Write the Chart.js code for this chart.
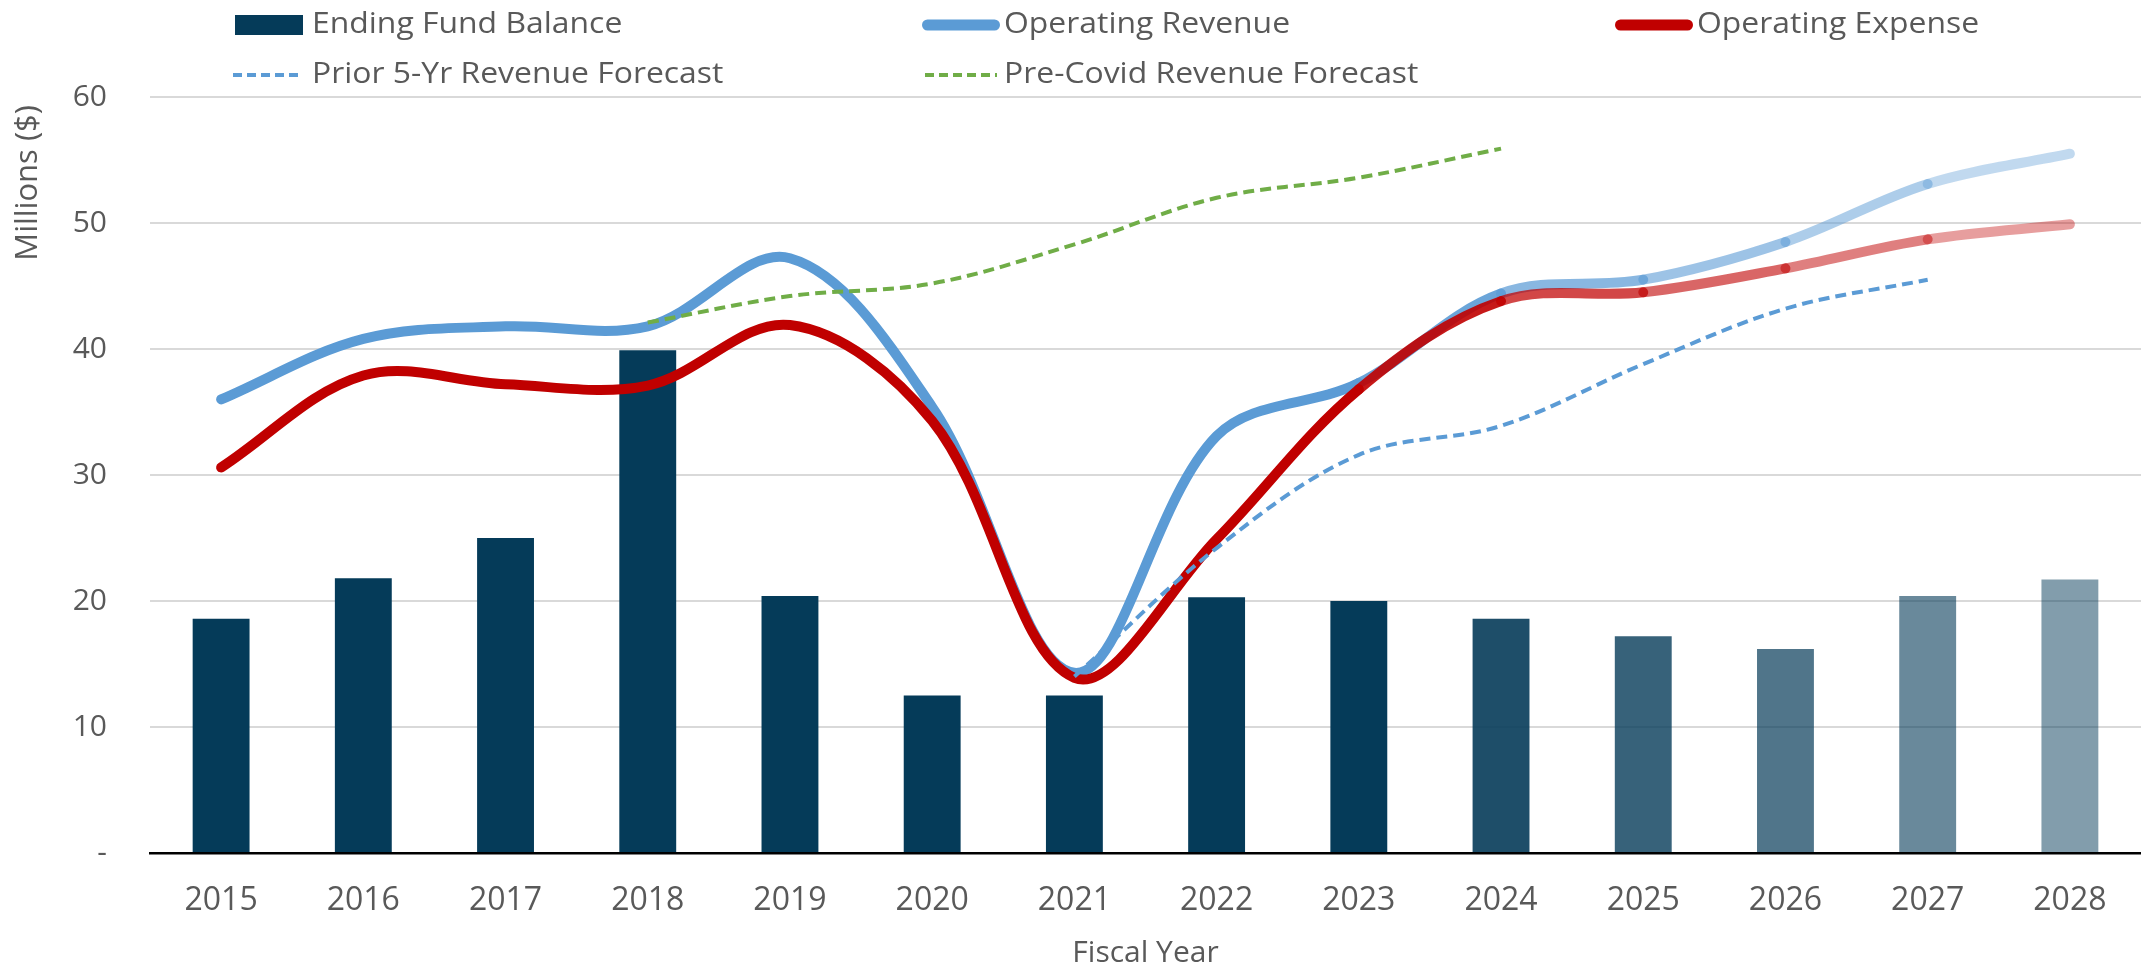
<!DOCTYPE html>
<html>
<head>
<meta charset="utf-8">
<script src="https://cdn.jsdelivr.net/npm/chart.js@4.4.1/dist/chart.umd.min.js"></script>
<style>
  html, body { margin: 0; padding: 0; background: #fff; }
  #fundChart { display: block; }
</style>
</head>
<body>
<canvas id="fundChart" width="2141" height="971"></canvas>
<script>
// Datos (millones de $)
const fiscalYears = ['2015', '2016', '2017', '2018', '2019', '2020', '2021', '2022', '2023', '2024', '2025', '2026', '2027', '2028'];
const endingFundBalance = [18.6, 21.8, 25.0, 39.9, 20.4, 12.5, 12.5, 20.3, 20.0, 18.6, 17.2, 16.2, 20.4, 21.7];
const operatingRevenue = [36.0, 40.8, 41.8, 41.8, 47.2, 35.4, 14.3, 33.1, 37.3, 44.4, 45.5, 48.5, 53.1, 55.5];
const operatingExpense = [30.6, 37.9, 37.2, 37.1, 41.9, 34.3, 13.9, 24.9, 36.8, 43.8, 44.5, 46.4, 48.7, 49.9];
const priorRevenueForecast = [null, null, null, null, null, null, 14.0, 24.2, 31.6, 33.9, 38.8, 43.2, 45.5, null];
const preCovidRevenueForecast = [null, null, null, 42.1, 44.2, 45.2, 48.3, 52.0, 53.6, 55.9, null, null, null, null];
const yTickValues = [0, 10, 20, 30, 40, 50, 60];

// Estilos: los años proyectados se ven más claros
const barAlpha = [1, 1, 1, 1, 1, 1, 1, 1, 1, 0.9, 0.8, 0.7, 0.6, 0.5];
const segmentAlpha = [1, 1, 1, 1, 1, 1, 1, 1, 0.9, 0.72, 0.6, 0.5, 0.38];
const textColor = '#595959';
const fontName = '"Open Sans", "DejaVu Sans", sans-serif';

function rgba(hex, a) {
    const n = parseInt(hex.slice(1), 16);
    return `rgba(${(n >> 16) & 255}, ${(n >> 8) & 255}, ${n & 255}, ${a})`;
}

// Leyenda dibujada a mano, con la misma rejilla que el original
const legendSlots = [
    { ds: 0, kind: 'box', x: 235, w: 68, y: 25, textX: 312 },
    { ds: 1, kind: 'line', x: 922, w: 78, y: 25, textX: 1004 },
    { ds: 2, kind: 'line', x: 1615, w: 78, y: 25, textX: 1697 },
    { ds: 3, kind: 'dash', x: 233, w: 70, y: 75, textX: 312 },
    { ds: 4, kind: 'dash', x: 925, w: 72, y: 75, textX: 1004 }
];

const excelLegend = {
    id: 'excelLegend',
    afterDraw(chart) {
        const ctx = chart.ctx;
        ctx.save();
        legendSlots.forEach(s => {
            const ds = chart.data.datasets[s.ds];
            if (s.kind === 'box') {
                ctx.fillStyle = ds.legendColor;
                ctx.fillRect(s.x, s.y - 10, s.w, 20);
            } else {
                ctx.beginPath();
                ctx.strokeStyle = ds.legendColor;
                if (s.kind === 'line') {
                    ctx.lineWidth = 11;
                    ctx.lineCap = 'round';
                    ctx.setLineDash([]);
                    ctx.moveTo(s.x + 5.5, s.y);
                    ctx.lineTo(s.x + s.w - 5.5, s.y);
                } else {
                    ctx.lineWidth = 4;
                    ctx.lineCap = 'butt';
                    ctx.setLineDash([9, 5]);
                    ctx.moveTo(s.x, s.y);
                    ctx.lineTo(s.x + s.w, s.y);
                }
                ctx.stroke();
                ctx.setLineDash([]);
            }
            ctx.save();
            ctx.translate(s.textX, s.y);
            ctx.scale(1.1, 1);
            ctx.fillStyle = textColor;
            ctx.font = '29px ' + fontName;
            ctx.textBaseline = 'middle';
            ctx.textAlign = 'left';
            ctx.fillText(ds.label, 0, 0);
            ctx.restore();
        });
        ctx.restore();
    }
};

function createFundChart() {
    const ctx = document.getElementById('fundChart').getContext('2d');
    const fundChart = new Chart(ctx, {
        type: 'bar',
        data: {
            labels: fiscalYears,
            datasets: [{
                type: 'bar',
                label: 'Ending Fund Balance',
                data: endingFundBalance,
                backgroundColor: barAlpha.map(a => rgba('#053B59', a)),
                legendColor: '#053B59',
                barPercentage: 0.4,
                categoryPercentage: 1.0,
                order: 5
            }, {
                type: 'line',
                label: 'Operating Revenue',
                data: operatingRevenue,
                borderColor: '#5B9BD5',
                legendColor: '#5B9BD5',
                borderWidth: 10,
                borderCapStyle: 'round',
                borderJoinStyle: 'round',
                tension: 0.35,
                pointRadius: 0,
                segment: { borderColor: c => rgba('#5B9BD5', segmentAlpha[c.p0DataIndex]) },
                order: 4
            }, {
                type: 'line',
                label: 'Operating Expense',
                data: operatingExpense,
                borderColor: '#C00000',
                legendColor: '#C00000',
                borderWidth: 10,
                borderCapStyle: 'round',
                borderJoinStyle: 'round',
                tension: 0.35,
                pointRadius: 0,
                segment: { borderColor: c => rgba('#C00000', segmentAlpha[c.p0DataIndex]) },
                order: 3
            }, {
                type: 'line',
                label: 'Prior 5-Yr Revenue Forecast',
                data: priorRevenueForecast,
                borderColor: '#5B9BD5',
                legendColor: '#5B9BD5',
                borderWidth: 4,
                borderDash: [11, 6],
                tension: 0.35,
                pointRadius: 0,
                order: 2
            }, {
                type: 'line',
                label: 'Pre-Covid Revenue Forecast',
                data: preCovidRevenueForecast,
                borderColor: '#70AD47',
                legendColor: '#70AD47',
                borderWidth: 4,
                borderDash: [11, 6],
                tension: 0.35,
                pointRadius: 0,
                order: 1
            }]
        },
        options: {
            responsive: false,
            animation: false,
            events: [],
            layout: { padding: { top: 97, right: 0, bottom: 0, left: 0 } },
            plugins: {
                legend: { display: false },
                tooltip: { enabled: false }
            },
            scales: {
                x: {
                    grid: { display: false, drawTicks: false },
                    border: { display: true, color: '#000000', width: 2.5 },
                    ticks: {
                        color: textColor,
                        font: { family: fontName, size: 32 },
                        padding: 29,
                        maxRotation: 0,
                        autoSkip: false
                    },
                    title: {
                        display: true,
                        text: 'Fiscal Year',
                        color: textColor,
                        font: { family: fontName, size: 30 },
                        padding: { top: 0, bottom: 0 }
                    },
                    afterFit: scale => { scale.height = 118; }
                },
                y: {
                    min: 0,
                    max: 60,
                    afterBuildTicks: scale => { scale.ticks = yTickValues.map(v => ({ value: v })); },
                    grid: {
                        drawTicks: false,
                        lineWidth: 2,
                        color: c => (c.tick && c.tick.value === 0) ? 'rgba(0,0,0,0)' : '#D9D9D9'
                    },
                    border: { display: false },
                    ticks: {
                        color: textColor,
                        font: { family: fontName, size: 30 },
                        padding: 43,
                        callback: v => v === 0 ? '-' : v
                    },
                    title: {
                        display: true,
                        text: 'Millions ($) ',
                        align: 'end',
                        color: textColor,
                        font: { family: fontName, size: 31 },
                        padding: { top: 10, bottom: 0 }
                    },
                    afterFit: scale => { scale.width = 150; }
                }
            }
        },
        plugins: [excelLegend]
    });
    return fundChart;
}

// Crear el gráfico cuando la página esté lista
document.addEventListener('DOMContentLoaded', createFundChart);
</script>
</body>
</html>
